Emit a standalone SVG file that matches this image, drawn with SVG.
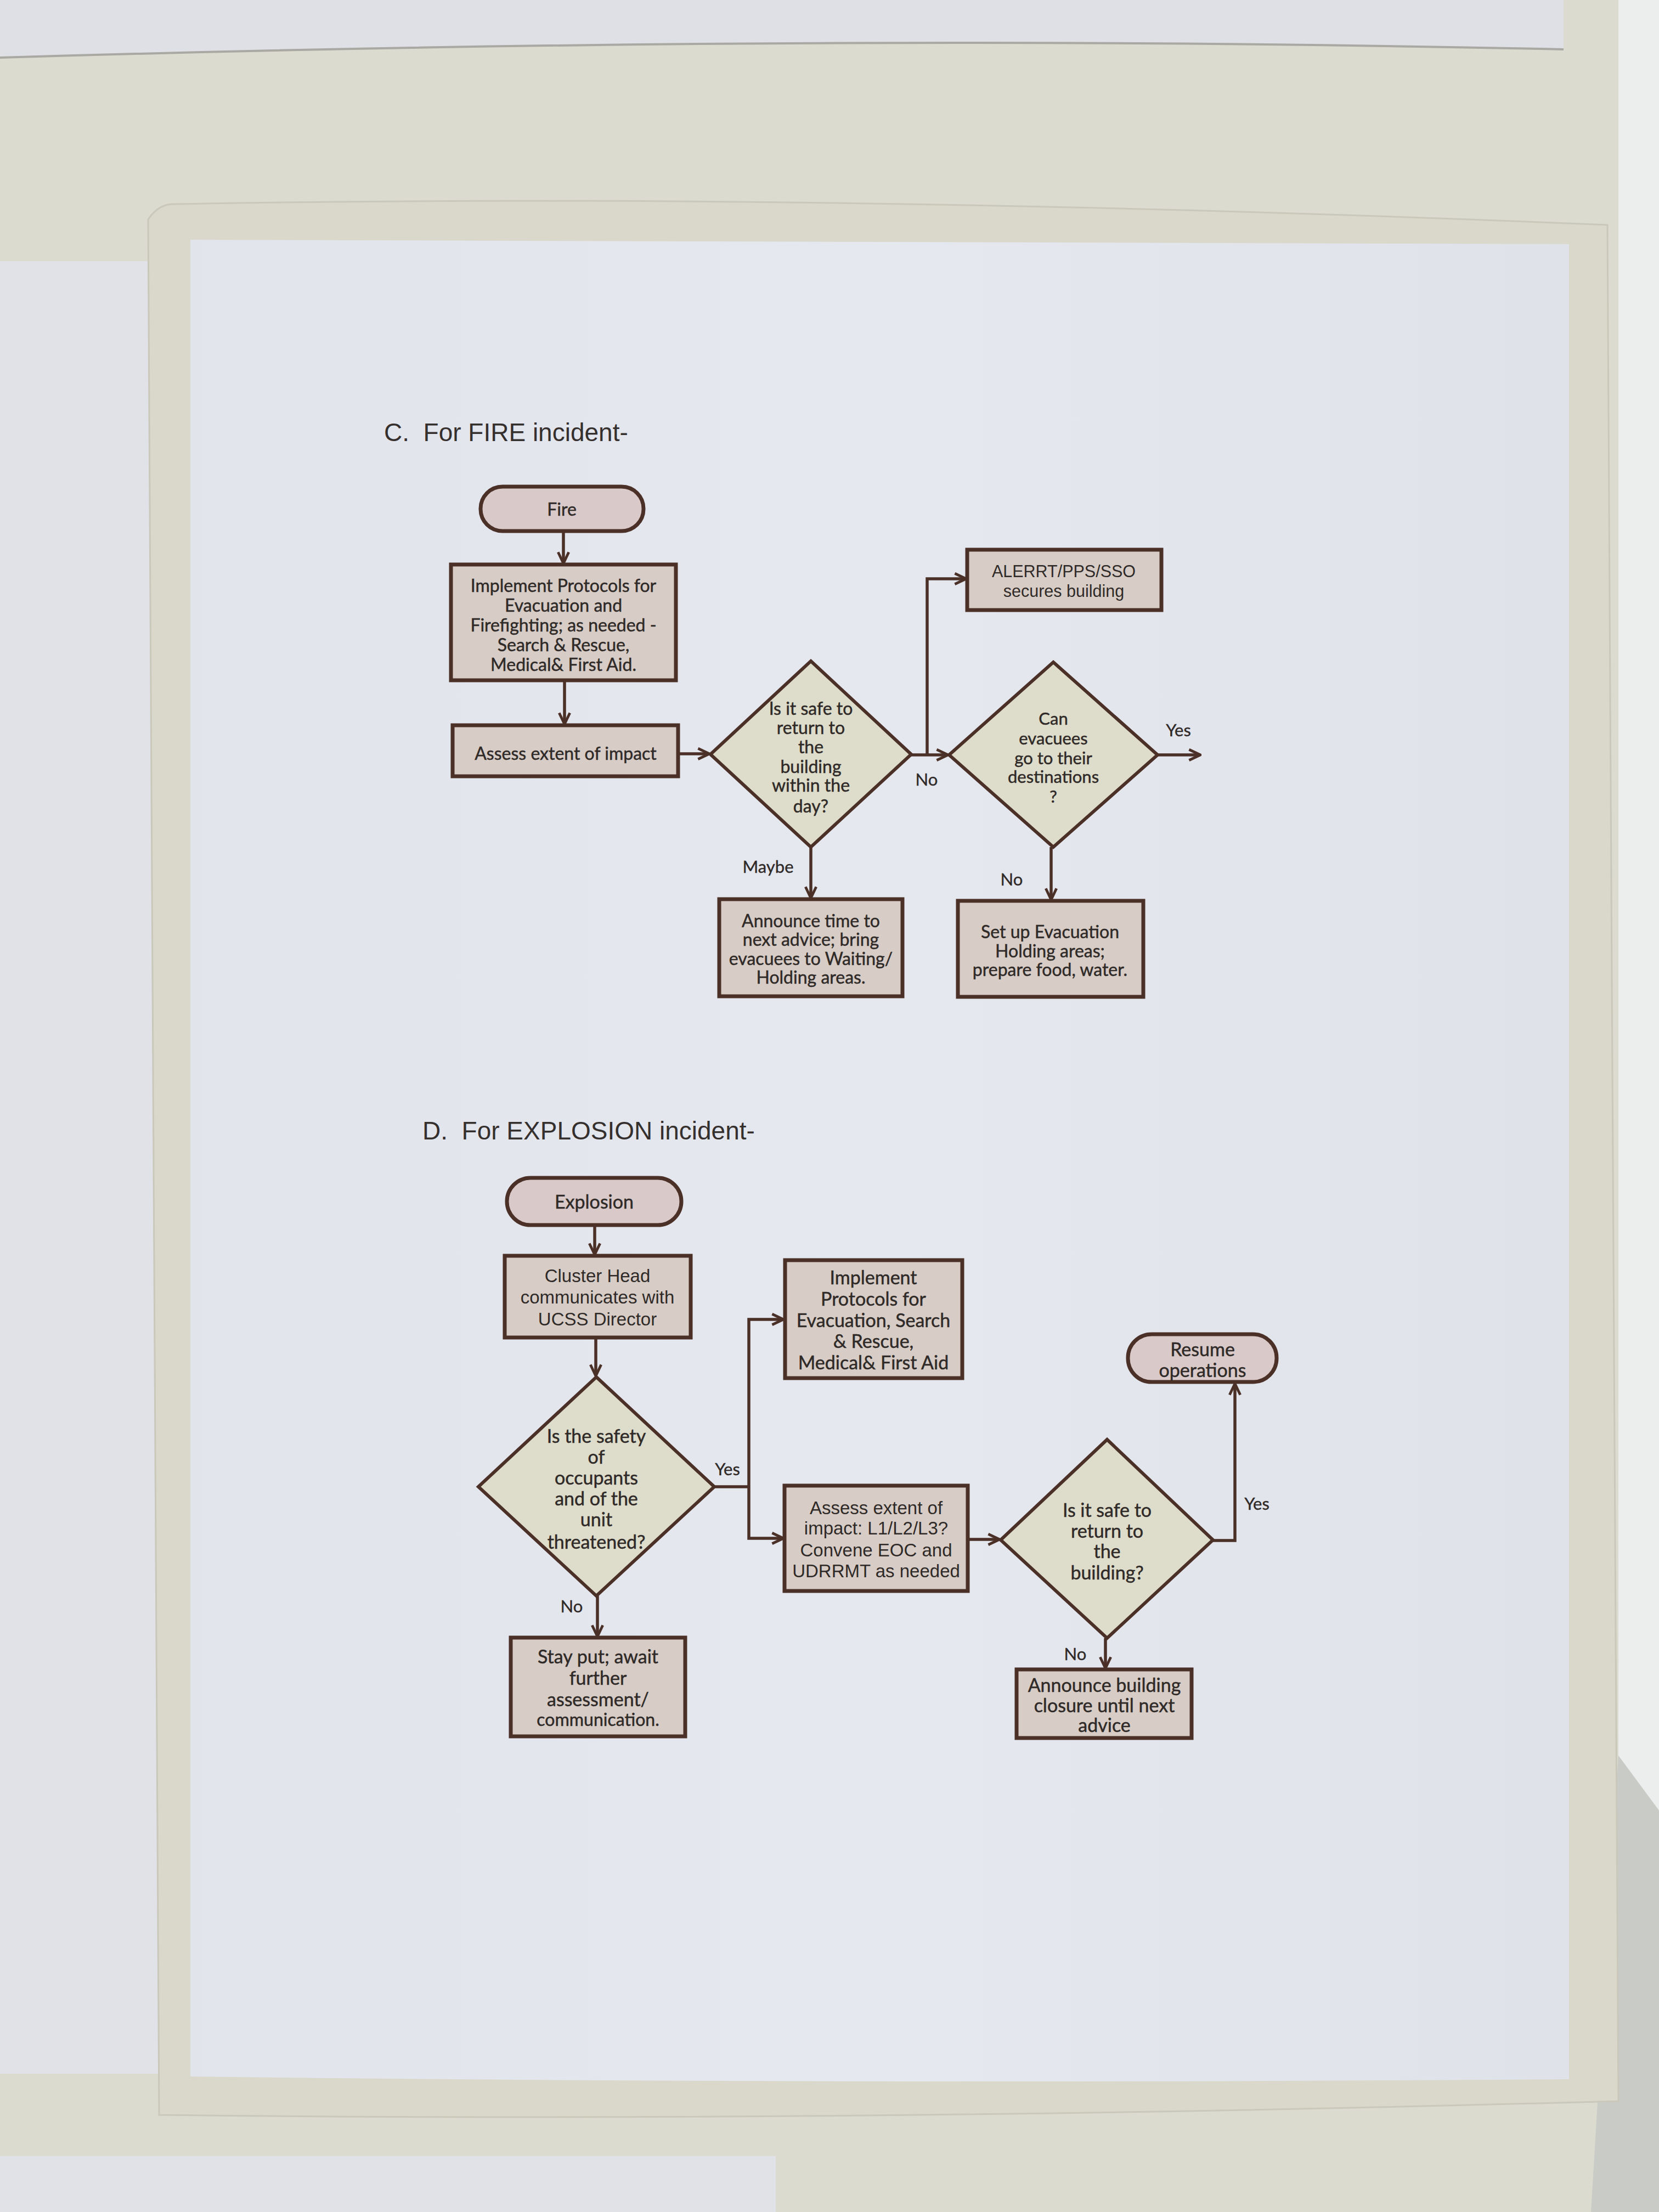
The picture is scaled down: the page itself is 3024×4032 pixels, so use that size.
<svg xmlns="http://www.w3.org/2000/svg" width="3024" height="4032" viewBox="0 0 3024 4032">
<defs>
<marker id="arr" viewBox="0 0 12 12" markerWidth="26" markerHeight="26" refX="11" refY="6" orient="auto" markerUnits="userSpaceOnUse">
<path d="M1.5,1.5 L11,6 L1.5,10.5" fill="none" stroke="#4b3027" stroke-width="2.2" stroke-linejoin="miter"/>
</marker>
<linearGradient id="paperG" x1="0" y1="0" x2="1" y2="0">
<stop offset="0" stop-color="#e2e4ec"/>
<stop offset="0.5" stop-color="#e6e8f0"/>
<stop offset="1" stop-color="#e0e2ea"/>
</linearGradient>
<style>
.box{fill:#d7cdc6;stroke:#4b3027;stroke-width:7}
.term{fill:#d9c9c8;stroke:#4b3027;stroke-width:7}
.dia{fill:#dedcca;stroke:#4b3027;stroke-width:6;stroke-linejoin:miter}
.con{fill:none;stroke:#4b3027;stroke-width:5.5}
.t{font-family:Lato,"Open Sans","Noto Sans",sans-serif;font-size:32px;fill:#2f2a28;text-anchor:middle;stroke:#2f2a28;stroke-width:0.5}
.ta{font-family:"Liberation Sans",Arial,sans-serif;font-size:33px;fill:#2f2a28;text-anchor:middle}
.te{font-family:Lato,"Open Sans","Noto Sans",sans-serif;font-size:34px;fill:#2f2a28;text-anchor:middle;stroke:#2f2a28;stroke-width:0.5}
.lbl{font-family:Lato,"Open Sans","Noto Sans",sans-serif;font-size:31px;fill:#2f2a28;text-anchor:middle;stroke:#2f2a28;stroke-width:0.4}
.title{font-family:"Liberation Sans",Arial,sans-serif;font-size:46px;fill:#35302e}
</style>
</defs>

<!-- background photo shapes -->
<rect x="0" y="0" width="3024" height="4032" fill="#dcdbd0"/>
<rect x="2950" y="0" width="74" height="4032" fill="#eceeed"/>
<path d="M2950,3200 L3024,3300 L3024,4032 L2900,4032 Z" fill="#c9cbc6"/>
<path d="M0,0 L2850,0 L2850,90 Q1500,60 0,105 Z" fill="#dfe0e6"/>
<path d="M0,105 Q1500,60 2850,90" fill="none" stroke="#a9a8a2" stroke-width="4"/>
<rect x="0" y="476" width="334" height="3304" fill="#e0e2e8"/>
<path d="M270,400 Q290,370 320,372 Q1500,350 2930,410 L2950,3830 Q1500,3870 290,3855 Z" fill="#d9d8ca" stroke="#c9c8ba" stroke-width="3"/>
<path d="M347,437 L2860,445 L2860,3790 Q1500,3800 347,3785 Z" fill="url(#paperG)"/>
<rect x="0" y="3930" width="1414" height="102" fill="#e0e2e8"/>

<!-- titles -->
<text class="title" x="700" y="804">C.&#160;&#160;For FIRE incident-</text>
<text class="title" x="770" y="2077">D.&#160;&#160;For EXPLOSION incident-</text>

<!-- connectors -->
<g id="connectors">
<path class="con" d="M1027,968 L1027,1027" marker-end="url(#arr)"/>
<path class="con" d="M1029,1240 L1029,1320" marker-end="url(#arr)"/>
<path class="con" d="M1236,1374 L1293,1374" marker-end="url(#arr)"/>
<path class="con" d="M1661,1376 L1728,1376" marker-end="url(#arr)"/>
<path class="con" d="M1690,1376 L1690,1055 L1761,1055" marker-end="url(#arr)"/>
<path class="con" d="M2110,1376 L2188,1376" marker-end="url(#arr)"/>
<path class="con" d="M1478,1544 L1478,1637" marker-end="url(#arr)"/>
<path class="con" d="M1916,1544 L1916,1640" marker-end="url(#arr)"/>

<path class="con" d="M1084,2233 L1084,2287" marker-end="url(#arr)"/>
<path class="con" d="M1086,2438 L1086,2508" marker-end="url(#arr)"/>
<path class="con" d="M1302,2710 L1365,2710"/>
<path class="con" d="M1365,2710 L1365,2405 L1428,2405" marker-end="url(#arr)"/>
<path class="con" d="M1365,2710 L1365,2804 L1428,2804" marker-end="url(#arr)"/>
<path class="con" d="M1089,2909 L1089,2983" marker-end="url(#arr)"/>
<path class="con" d="M1764,2806 L1822,2806" marker-end="url(#arr)"/>
<path class="con" d="M2211,2808 L2251,2808 L2251,2522" marker-end="url(#arr)"/>
<path class="con" d="M2015,2986 L2015,3041" marker-end="url(#arr)"/>

<text class="lbl" x="1689" y="1432">No</text>
<text class="lbl" x="2148" y="1342">Yes</text>
<text class="lbl" x="1400" y="1591">Maybe</text>
<text class="lbl" x="1844" y="1614">No</text>
<text class="lbl" x="1326" y="2689">Yes</text>
<text class="lbl" x="1042" y="2939">No</text>
<text class="lbl" x="2291" y="2752">Yes</text>
<text class="lbl" x="1960" y="3026">No</text>
</g>

<!-- FIRE section -->
<g id="fire">
<rect class="term" x="876" y="887" width="297" height="81" rx="40"/>
<text class="t" x="1024" y="940">Fire</text>
</g>
<g id="implement-fire">
<rect class="box" x="822" y="1029" width="410" height="211"/>
<text class="t" x="1027" y="1079">Implement Protocols for</text>
<text class="t" x="1027" y="1115">Evacuation and</text>
<text class="t" x="1027" y="1151">Firefighting; as needed -</text>
<text class="t" x="1027" y="1187">Search &amp; Rescue,</text>
<text class="t" x="1027" y="1223">Medical&amp; First Aid.</text>
</g>
<g id="assess-fire">
<rect class="box" x="825" y="1322" width="411" height="93"/>
<text class="t" x="1031" y="1385">Assess extent of impact</text>
</g>
<g id="safe-day">
<polygon class="dia" points="1478,1205 1661,1375 1478,1544 1295,1375"/>
<text class="t" x="1478" y="1303">Is it safe to</text>
<text class="t" x="1478" y="1338">return to</text>
<text class="t" x="1478" y="1373">the</text>
<text class="t" x="1478" y="1409">building</text>
<text class="t" x="1478" y="1443">within the</text>
<text class="t" x="1478" y="1481">day?</text>
</g>
<g id="alerrt">
<rect class="box" x="1763" y="1002" width="354" height="110"/>
<text class="ta" x="1939" y="1052" style="font-size:30.5px">ALERRT/PPS/SSO</text>
<text class="ta" x="1939" y="1088" style="font-size:30.5px">secures building</text>
</g>
<g id="can-evacuees">
<polygon class="dia" points="1920,1207 2110,1376 1920,1544 1730,1376"/>
<text class="t" x="1920" y="1321" style="font-size:31px">Can</text>
<text class="t" x="1920" y="1357" style="font-size:31px">evacuees</text>
<text class="t" x="1920" y="1393" style="font-size:31px">go to their</text>
<text class="t" x="1920" y="1427" style="font-size:31px">destinations</text>
<text class="t" x="1920" y="1463" style="font-size:31px">?</text>
</g>
<g id="announce-time">
<rect class="box" x="1311" y="1639" width="334" height="177"/>
<text class="t" x="1478" y="1690">Announce time to</text>
<text class="t" x="1478" y="1724">next advice; bring</text>
<text class="t" x="1478" y="1759">evacuees to Waiting/</text>
<text class="t" x="1478" y="1793">Holding areas.</text>
</g>
<g id="setup-holding">
<rect class="box" x="1746" y="1642" width="338" height="175"/>
<text class="t" x="1914" y="1710">Set up Evacuation</text>
<text class="t" x="1914" y="1745">Holding areas;</text>
<text class="t" x="1914" y="1779">prepare food, water.</text>
</g>

<!-- EXPLOSION section -->
<g id="explosion">
<rect class="term" x="924" y="2147" width="318" height="86" rx="43"/>
<text class="te" x="1083" y="2203">Explosion</text>
</g>
<g id="cluster-head">
<rect class="box" x="920" y="2289" width="339" height="149"/>
<text class="ta" x="1089" y="2337">Cluster Head</text>
<text class="ta" x="1089" y="2376">communicates with</text>
<text class="ta" x="1089" y="2416">UCSS Director</text>
</g>
<g id="safety-threatened">
<polygon class="dia" points="1087,2510 1302,2710 1087,2909 872,2710"/>
<text class="te" x="1087" y="2630">Is the safety</text>
<text class="te" x="1087" y="2668">of</text>
<text class="te" x="1087" y="2706">occupants</text>
<text class="te" x="1087" y="2744">and of the</text>
<text class="te" x="1087" y="2782">unit</text>
<text class="te" x="1087" y="2823">threatened?</text>
</g>
<g id="implement-explosion">
<rect class="box" x="1431" y="2297" width="323" height="215"/>
<text class="te" x="1592" y="2341">Implement</text>
<text class="te" x="1592" y="2380">Protocols for</text>
<text class="te" x="1592" y="2419">Evacuation, Search</text>
<text class="te" x="1592" y="2457">&amp; Rescue,</text>
<text class="te" x="1592" y="2496">Medical&amp; First Aid</text>
</g>
<g id="assess-explosion">
<rect class="box" x="1430" y="2708" width="334" height="192"/>
<text class="ta" x="1597" y="2760">Assess extent of</text>
<text class="ta" x="1597" y="2797">impact: L1/L2/L3?</text>
<text class="ta" x="1597" y="2837">Convene EOC and</text>
<text class="ta" x="1597" y="2875">UDRRMT as needed</text>
</g>
<g id="stay-put">
<rect class="box" x="931" y="2985" width="318" height="180"/>
<text class="te" x="1090" y="3032">Stay put; await</text>
<text class="te" x="1090" y="3071">further</text>
<text class="te" x="1090" y="3110">assessment/</text>
<text class="te" x="1090" y="3146" style="font-size:32px">communication.</text>
</g>
<g id="resume">
<rect class="term" x="2056" y="2432" width="271" height="87" rx="43"/>
<text class="te" x="2192" y="2472">Resume</text>
<text class="te" x="2192" y="2510">operations</text>
</g>
<g id="safe-building">
<polygon class="dia" points="2018,2624 2211,2807 2018,2986 1824,2807"/>
<text class="te" x="2018" y="2765">Is it safe to</text>
<text class="te" x="2018" y="2803">return to</text>
<text class="te" x="2018" y="2840">the</text>
<text class="te" x="2018" y="2879">building?</text>
</g>
<g id="announce-closure">
<rect class="box" x="1853" y="3043" width="319" height="125"/>
<text class="te" x="2013" y="3084">Announce building</text>
<text class="te" x="2013" y="3121">closure until next</text>
<text class="te" x="2013" y="3157">advice</text>
</g>
</svg>
